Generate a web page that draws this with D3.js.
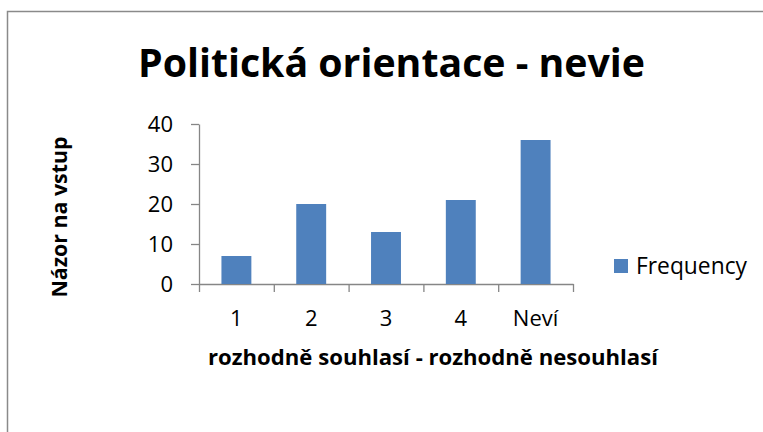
<!DOCTYPE html>
<html>
<head>
<meta charset="utf-8">
<script src="https://cdn.jsdelivr.net/npm/d3@7"></script>
<style>
  body { margin: 0; background: #fff; }
  text { font-family: "Open Sans", sans-serif; fill: #000; }
</style>
</head>
<body>
<div id="chart"></div>
<script>
// data
var categories = ["1", "2", "3", "4", "Neví"];
var frequency = [7, 20, 13, 21, 36];
var yTicks = [0, 10, 20, 30, 40];
var seriesName = "Frequency";

var width = 763, height = 432;
var plotLeft = 199, plotRight = 573, plotTop = 124, plotBottom = 284;

var svg = d3.select("#chart").append("svg")
    .attr("width", width)
    .attr("height", height);

svg.append("rect")
    .attr("width", width).attr("height", height)
    .attr("fill", "#fff");

// outer chart frame (runs off the right and bottom edge)
svg.append("rect")
    .attr("x", 7.5).attr("y", 11.5)
    .attr("width", 800).attr("height", 500)
    .attr("fill", "none")
    .attr("stroke", "#8a8a8a")
    .attr("stroke-width", 1.5);

var x = d3.scaleBand()
    .domain(categories)
    .range([plotLeft, plotRight])
    .paddingInner(0.6)
    .paddingOuter(0.3);

// category boundaries for the tick marks
var xEdge = d3.scaleLinear()
    .domain([0, categories.length])
    .range([plotLeft, plotRight]);

var y = d3.scaleLinear()
    .domain([0, 40])
    .range([plotBottom, plotTop]);

// y axis
var yAxis = svg.append("g")
    .attr("transform", "translate(" + plotLeft + ",0)")
    .call(d3.axisLeft(y).tickValues(yTicks).tickSize(8).tickSizeOuter(0).tickPadding(18));
yAxis.selectAll("line, path").attr("stroke", "#868686").attr("stroke-width", 1.3);
yAxis.selectAll("text")
    .style("font-size", "22px")
    .style("font-family", "Open Sans")
    .attr("fill", "#000");

// x axis, ticks between the categories
var xAxis = svg.append("g")
    .attr("transform", "translate(0," + plotBottom + ")")
    .call(d3.axisBottom(xEdge).tickValues(d3.range(categories.length + 1)).tickSize(8).tickSizeOuter(0).tickFormat(""));
xAxis.selectAll("line, path").attr("stroke", "#868686").attr("stroke-width", 1.3);

svg.append("g").selectAll("text")
    .data(categories)
    .enter()
    .append("text")
    .attr("x", function (d) { return x(d) + x.bandwidth() / 2; })
    .attr("y", 326)
    .attr("text-anchor", "middle")
    .style("font-size", "22px")
    .text(function (d) { return d; });

// bars
svg.append("g").selectAll("rect")
    .data(frequency)
    .enter()
    .append("rect")
    .attr("x", function (d, i) { return x(categories[i]); })
    .attr("y", function (d) { return y(d); })
    .attr("width", x.bandwidth())
    .attr("height", function (d) { return y(0) - y(d); })
    .attr("fill", "#4f81bd");

// title
svg.append("text")
    .attr("x", 138).attr("y", 77)
    .attr("textLength", 507)
    .attr("lengthAdjust", "spacingAndGlyphs")
    .style("font-size", "40px")
    .style("font-weight", "bold")
    .text("Politická orientace - nevie");

// axis titles
svg.append("text")
    .attr("transform", "translate(67,217) rotate(-90)")
    .attr("text-anchor", "middle")
    .attr("textLength", 161)
    .attr("lengthAdjust", "spacingAndGlyphs")
    .style("font-size", "22px")
    .style("font-weight", "bold")
    .text("Názor na vstup");

svg.append("text")
    .attr("x", 208).attr("y", 365)
    .attr("textLength", 450)
    .attr("lengthAdjust", "spacingAndGlyphs")
    .style("font-size", "21px")
    .style("font-weight", "bold")
    .text("rozhodně souhlasí - rozhodně nesouhlasí");

// legend
var legend = svg.append("g");
legend.append("rect")
    .attr("x", 614).attr("y", 259)
    .attr("width", 14).attr("height", 14)
    .attr("fill", "#4f81bd");
legend.append("text")
    .attr("x", 636).attr("y", 274)
    .attr("textLength", 111)
    .attr("lengthAdjust", "spacingAndGlyphs")
    .style("font-size", "23px")
    .text(seriesName);
</script>
</body>
</html>
